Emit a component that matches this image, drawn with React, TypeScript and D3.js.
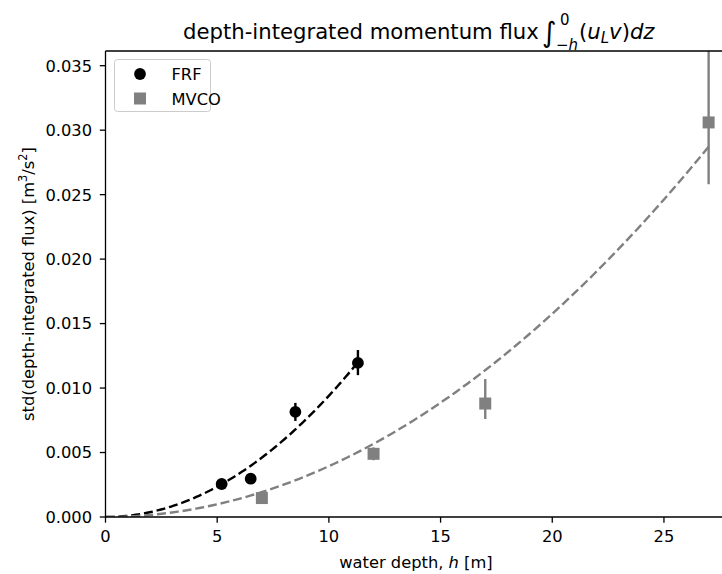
import React from "react";
import * as d3 from "d3";

const frfDepth = [5.2, 6.5, 8.5, 11.3];
const frfFlux = [0.00256, 0.00297, 0.00815, 0.01195];
const frfErrLow = [0.0002, 0.0002, 0.0007, 0.00095];
const frfErrHigh = [0.0002, 0.0002, 0.0007, 0.001];

const mvcoDepth = [7.0, 12.0, 17.0, 27.0];
const mvcoFlux = [0.00147, 0.0049, 0.0088, 0.0306];
const mvcoErrLow = [0.0002, 0.0005, 0.0012, 0.0048];
const mvcoErrHigh = [0.0002, 0.0005, 0.0019, 0.0058];

const frfCoef = 9.4e-5;
const mvcoCoef = 3.94e-5;

const xTicks = [0, 5, 10, 15, 20, 25];
const yTicks = [0, 0.005, 0.01, 0.015, 0.02, 0.025, 0.03, 0.035];

const W = 722;
const H = 574;
const L = 105.5;
const R = 726.5;
const T = 51;
const B = 517;
const FONT = "DejaVu Sans, sans-serif";
const GRAY = "#808080";
const FS = 16.3;
const TFS = 21.2;
const LW = 2.4;
const TICK = 5.7;

export default function App() {
  const x = d3.scaleLinear().domain([0, 27.8]).range([L, R]);
  const y = d3.scaleLinear().domain([0, 0.03614]).range([B, T]);

  const fitLine = (coef: number, maxH: number) => {
    const pts = d3.range(0, maxH + 1e-9, maxH / 100).map((h) => [h, coef * h * h] as [number, number]);
    return d3
      .line<[number, number]>()
      .x((d) => x(d[0]))
      .y((d) => y(d[1]))(pts) as string;
  };

  const frfMax = d3.max(frfDepth) as number;
  const mvcoMax = d3.max(mvcoDepth) as number;

  return (
    <svg width={W} height={H} style={{ position: "absolute", left: 0, top: 0, background: "#fff" }} fontFamily={FONT}>
      <defs>
        <clipPath id="plotclip">
          <rect x={L} y={T} width={R - L} height={B - T} />
        </clipPath>
      </defs>
      <rect x={0} y={0} width={W} height={H} fill="#fff" />

      <g clipPath="url(#plotclip)">
        <path d={fitLine(frfCoef, frfMax)} fill="none" stroke="#000" strokeWidth={LW} strokeDasharray="9,3.9" />
        <path d={fitLine(mvcoCoef, mvcoMax)} fill="none" stroke={GRAY} strokeWidth={LW} strokeDasharray="9,3.9" />

        {frfDepth.map((h, i) => (
          <g key={"f" + i}>
            <line x1={x(h)} x2={x(h)} y1={y(frfFlux[i] - frfErrLow[i])} y2={y(frfFlux[i] + frfErrHigh[i])} stroke="#000" strokeWidth={LW} />
            <circle cx={x(h)} cy={y(frfFlux[i])} r={5.9} fill="#000" />
          </g>
        ))}
        {mvcoDepth.map((h, i) => (
          <g key={"m" + i}>
            <line x1={x(h)} x2={x(h)} y1={y(mvcoFlux[i] - mvcoErrLow[i])} y2={y(mvcoFlux[i] + mvcoErrHigh[i])} stroke={GRAY} strokeWidth={LW} />
            <rect x={x(h) - 6} y={y(mvcoFlux[i]) - 6} width={12} height={12} fill={GRAY} />
          </g>
        ))}
      </g>

      {/* spines */}
      <line x1={L} x2={L} y1={T} y2={B} stroke="#000" strokeWidth={1.3} />
      <line x1={L} x2={R} y1={B} y2={B} stroke="#000" strokeWidth={1.3} />
      <line x1={L} x2={R} y1={T} y2={T} stroke="#000" strokeWidth={1.3} />

      {/* x ticks */}
      {xTicks.map((t) => (
        <g key={"xt" + t}>
          <line x1={x(t)} x2={x(t)} y1={B} y2={B + TICK} stroke="#000" strokeWidth={1.3} />
          <text x={x(t)} y={541.5} textAnchor="middle" fontSize={FS} fill="#000">
            {t}
          </text>
        </g>
      ))}
      {/* y ticks */}
      {yTicks.map((t) => (
        <g key={"yt" + t}>
          <line x1={L - TICK} x2={L} y1={y(t)} y2={y(t)} stroke="#000" strokeWidth={1.3} />
          <text x={92} y={y(t) + 5.9} textAnchor="end" fontSize={FS} fill="#000">
            {t.toFixed(3)}
          </text>
        </g>
      ))}

      {/* axis labels */}
      <text x={(L + R) / 2} y={568} textAnchor="middle" fontSize={FS} fill="#000">
        water depth, <tspan fontStyle="italic">h</tspan> [m]
      </text>
      <text transform={`translate(33.5,${(T + B) / 2}) rotate(-90)`} textAnchor="middle" fontSize={FS} fill="#000">
        std(depth-integrated flux) [m
        <tspan baselineShift="super" fontSize={11.4}>3</tspan>
        /s
        <tspan baselineShift="super" fontSize={11.4}>2</tspan>]
      </text>

      {/* title */}
      <text x={183} y={39} fontSize={TFS} fill="#000">
        depth-integrated momentum flux
        <tspan x={542} y={42} fontSize={28}>∫</tspan>
        <tspan x={560} y={25} fontSize={15}>0</tspan>
        <tspan x={556} y={50} fontSize={15}>−</tspan>
        <tspan fontSize={15} fontStyle="italic">h</tspan>
        <tspan x={579} y={39}>(</tspan>
        <tspan fontStyle="italic">u</tspan>
        <tspan fontSize={15} fontStyle="italic" dy={4}>L</tspan>
        <tspan fontStyle="italic" dy={-4}>v</tspan>
        <tspan>)</tspan>
        <tspan fontStyle="italic">dz</tspan>
      </text>

      {/* legend */}
      <rect x={114.5} y={59.5} width={96} height={52} rx={3} fill="#fff" fillOpacity={0.8} stroke="#cccccc" strokeWidth={1} />
      <circle cx={140} cy={74} r={5.9} fill="#000" />
      <text x={171.5} y={80} fontSize={FS} fill="#000">FRF</text>
      <rect x={134} y={92.5} width={12} height={12} fill={GRAY} />
      <text x={171.5} y={104.5} fontSize={FS} fill="#000">MVCO</text>
    </svg>
  );
}
